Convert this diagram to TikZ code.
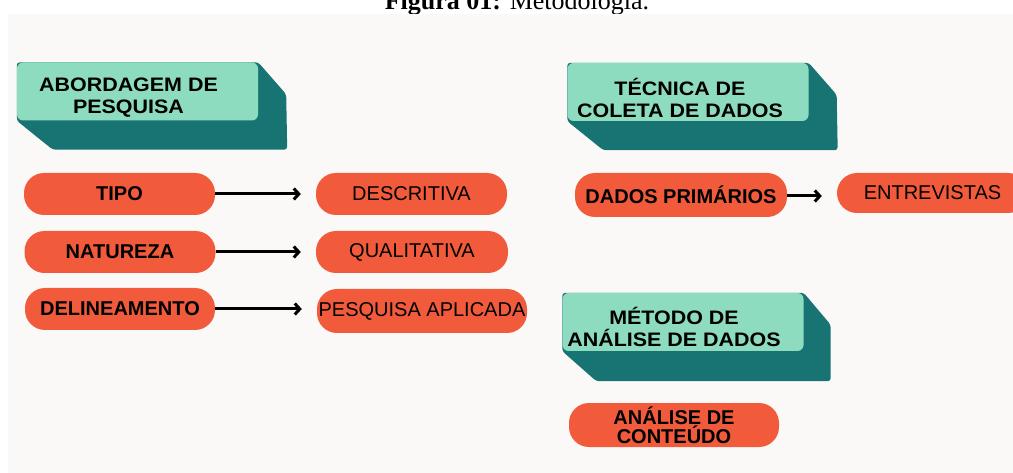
\documentclass[tikz,border=0pt]{standalone}
\usepackage{fontspec}
\setmainfont{Liberation Serif}
\setsansfont{Liberation Sans}
\newfontfamily\headfont[FakeStretch=1.1]{Liberation Sans}
\usepackage{xcolor}
\usetikzlibrary{arrows.meta,calc,positioning,backgrounds}
\definecolor{paper}{HTML}{FAF9F8}
\definecolor{pillorange}{HTML}{F15B3B}
\definecolor{facemint}{HTML}{8EDCC0}
\definecolor{deepteal}{HTML}{177473}

\begin{document}
\begin{tikzpicture}[x=1pt,y=-1pt,
  pill/.style={fill=pillorange,rounded corners=20pt,minimum width=#1,minimum height=42pt,inner sep=0pt,
               align=center,font=\sffamily\fontsize{20}{18}\selectfont},pill/.default=191pt,
  strong/.style={font=\sffamily\bfseries\fontsize{20}{18.5}\selectfont},
  face/.style={fill=facemint,rounded corners=6pt,minimum width=241pt,minimum height=58pt,inner sep=0pt},
  headtxt/.style={align=center,inner sep=0pt,font=\headfont\bfseries\fontsize{19.5}{22}\selectfont},
  arr/.style={line width=3pt,-{Straight Barb[length=5pt,width=11pt]},shorten >=15pt}]
  \useasboundingbox (0,0) rectangle (1013,473);
  \clip (0,0) rectangle (1013,473);
  % headers
  \node[face] (H1) at (137.5,91.5) {};
  \node[headtxt] (H1t) at ([shift={(-9,6)}]H1.center) {ABORDAGEM DE\\PESQUISA};
  \node[face] (H2) at (688,92) {};
  \node[headtxt] (H2t) at ([shift={(-8,6)}]H2.center) {TÉCNICA DE\\COLETA DE DADOS};
  \node[face] (H3) at (683,322) {};
  \node[headtxt] (H3t) at ([shift={(-9,5)}]H3.center) {MÉTODO DE\\ANÁLISE DE DADOS};
  % pills
  \node[pill,strong] (tipo) at (119.5,194) {TIPO};
  \node[pill] (descr) at (411.5,194) {DESCRITIVA};
  \node[pill,strong] (natur) at (120,252) {NATUREZA};
  \node[pill=192pt] (quali) at (412,252) {QUALITATIVA};
  \node[pill=190pt,strong] (delin) at (120,309) {DELINEAMENTO};
  \node[pill=210pt,minimum height=44pt] (aplic) at (422,311) {PESQUISA APLICADA};
  \node[pill=212pt,minimum height=44pt,strong] (prim) at (681,195) {DADOS PRIMÁRIOS};
  \node[pill,minimum height=40pt] (entrev) at (932.5,193) {ENTREVISTAS};
  \node[pill=210pt,minimum height=44pt,strong] (conteudo) at (674,425) {ANÁLISE DE\\CONTEÚDO};
  % arrows
  \draw[arr] (tipo.east) -- (tipo.east -| descr.west);
  \draw[arr] (natur.east) -- (natur.east -| quali.west);
  \draw[arr] (delin.east) -- (delin.east -| aplic.west);
  \draw[arr] ([yshift=-1pt]prim.east) -- ([yshift=-1pt]prim.east -| entrev.west);
  \begin{scope}[on background layer]
    \node[anchor=base,inner sep=0pt,font=\fontsize{26}{30}\selectfont] (cap) at (517,10) {\textbf{Figura 01:} Metodologia.};
    \fill[paper] (8,14) rectangle (1013,473);
    \fill[deepteal,rounded corners=3pt] (H1.north west) -- (H1.north east) -- ([shift={(28,32)}]H1.north east)
      -- ([shift={(29,29)}]H1.south east) -- ([shift={(36,29)}]H1.south west) -- (H1.south west) -- cycle;
    \fill[deepteal,rounded corners=3pt] (H2.north west) -- (H2.north east) -- ([shift={(28,32)}]H2.north east)
      -- ([shift={(29,29)}]H2.south east) -- ([shift={(36,29)}]H2.south west) -- (H2.south west) -- cycle;
    \fill[deepteal,rounded corners=3pt] (H3.north west) -- (H3.north east) -- ([shift={(27,32)}]H3.north east)
      -- ([shift={(27,30)}]H3.south east) -- ([shift={(34,30)}]H3.south west) -- (H3.south west) -- cycle;
  \end{scope}
\end{tikzpicture}
\end{document}
